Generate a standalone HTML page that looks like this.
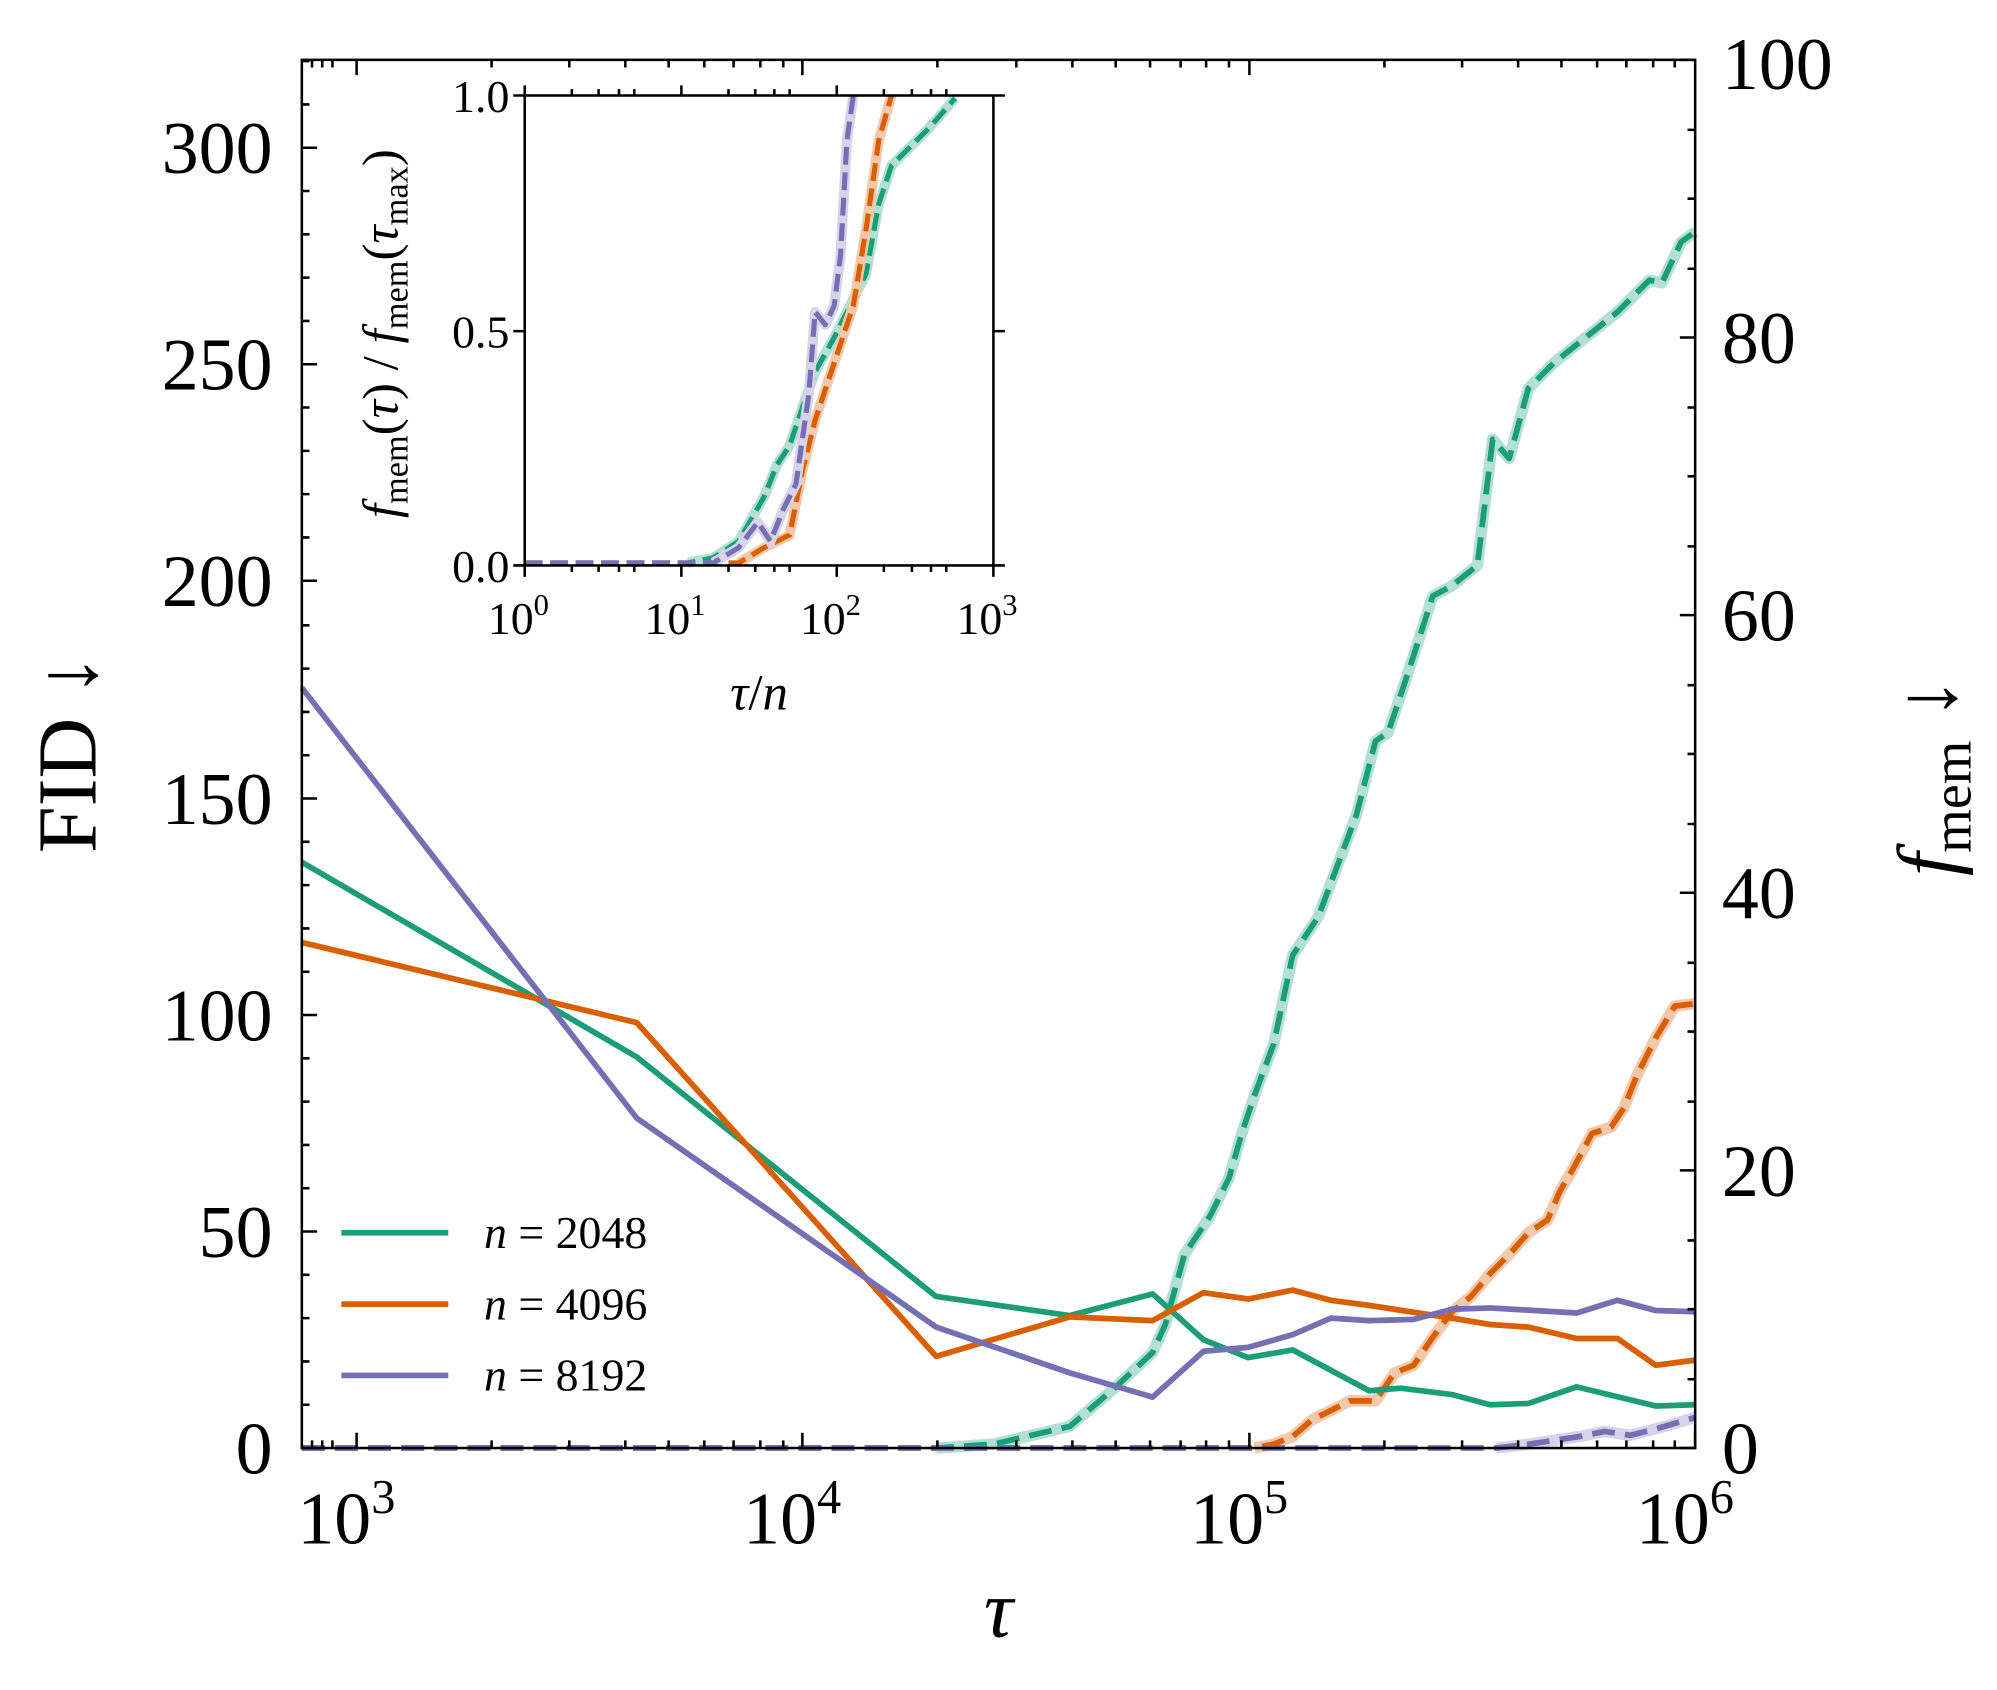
<!DOCTYPE html>
<html><head><meta charset="utf-8"><style>html,body{margin:0;padding:0;background:#fff}svg{display:block}</style></head>
<body>
<svg width="1997" height="1690" viewBox="0 0 1568 1327" preserveAspectRatio="none" xmlns="http://www.w3.org/2000/svg" font-family="Liberation Serif, serif">
<rect width="1568" height="1327" fill="#fff"/>
<g fill="none" stroke-linejoin="round">
<polyline stroke="#b3e0d2" stroke-width="9" points="735,1137 780,1134 840,1120 875,1090 905,1062 915,1040 930,985 950,955 965,925 975,890 985,860 1000,820 1015,750 1035,720 1050,680 1065,640 1080,582 1090,575 1105,530 1125,468 1140,460 1160,444 1172,345 1185,360 1200,305 1220,285 1245,265 1270,245 1295,220 1305,222 1320,190 1331,182"/>
<polyline stroke="#1b9e77" stroke-width="4.5" stroke-dasharray="18,8" points="237,1137 735,1137 780,1134 840,1120 875,1090 905,1062 915,1040 930,985 950,955 965,925 975,890 985,860 1000,820 1015,750 1035,720 1050,680 1065,640 1080,582 1090,575 1105,530 1125,468 1140,460 1160,444 1172,345 1185,360 1200,305 1220,285 1245,265 1270,245 1295,220 1305,222 1320,190 1331,182"/>
<polyline stroke="#f2c9ab" stroke-width="9" points="985,1137 1000,1134 1015,1128 1030,1115 1060,1100 1080,1100 1095,1078 1110,1072 1125,1050 1140,1030 1155,1018 1170,1000 1185,985 1200,968 1215,958 1225,935 1235,918 1250,890 1265,885 1275,870 1285,845 1300,815 1315,790 1331,788"/>
<polyline stroke="#d95f02" stroke-width="4.5" stroke-dasharray="18,8" points="237,1137 985,1137 1000,1134 1015,1128 1030,1115 1060,1100 1080,1100 1095,1078 1110,1072 1125,1050 1140,1030 1155,1018 1170,1000 1185,985 1200,968 1215,958 1225,935 1235,918 1250,890 1265,885 1275,870 1285,845 1300,815 1315,790 1331,788"/>
<polyline stroke="#d6d3ea" stroke-width="9" points="1175,1137 1200,1134 1240,1128 1260,1124 1280,1127 1300,1122 1331,1113"/>
<polyline stroke="#7570b3" stroke-width="4.5" stroke-dasharray="18,8" points="237,1137 1175,1137 1200,1134 1240,1128 1260,1124 1280,1127 1300,1122 1331,1113"/>
<polyline stroke="#1b9e77" stroke-width="4.5" points="237,677 500,830 735,1018 840,1033 905,1016 945,1052 980,1066 1015,1060 1075,1092 1100,1090 1140,1095 1170,1103 1200,1102 1238,1089 1300,1104 1331,1103"/>
<polyline stroke="#d95f02" stroke-width="4.5" points="237,740 500,803 735,1065 840,1034 905,1037 945,1015 980,1020 1015,1013 1045,1021 1075,1025 1140,1035 1170,1040 1200,1042 1238,1051 1270,1051 1300,1072 1331,1068"/>
<polyline stroke="#7570b3" stroke-width="4.5" points="237,540 500,878 735,1042 840,1078 905,1097 945,1061 980,1058 1015,1048 1045,1035 1075,1037 1110,1036 1140,1028 1170,1027 1238,1031 1270,1021 1300,1029 1331,1030"/>
</g>
<rect x="237" y="47" width="1094" height="1090" fill="none" stroke="#000" stroke-width="2"/>
<g stroke="#000" stroke-width="2">
<path d="M237,1137h12M237,967h12M237,797h12M237,627h12M237,456h12M237,286h12M237,116h12"/>
<path d="M237,1103h6M237,1069h6M237,1035h6M237,1001h6M237,933h6M237,899h6M237,865h6M237,831h6M237,763h6M237,729h6M237,695h6M237,661h6M237,593h6M237,559h6M237,525h6M237,491h6M237,422h6M237,388h6M237,354h6M237,320h6M237,252h6M237,218h6M237,184h6M237,150h6M237,82h6M237,48h6"/>
<path d="M1331,1137h-12M1331,919h-12M1331,701h-12M1331,483h-12M1331,265h-12M1331,47h-12"/>
<path d="M1331,1083h-6M1331,1028h-6M1331,974h-6M1331,865h-6M1331,810h-6M1331,756h-6M1331,647h-6M1331,592h-6M1331,538h-6M1331,429h-6M1331,374h-6M1331,320h-6M1331,211h-6M1331,156h-6M1331,102h-6"/>
<path d="M280,1137v-12M630,1137v-12M981,1137v-12M1331,1137v-12M280,47v12M630,47v12M981,47v12"/>
<path d="M245,1137v-6M253,1137v-6M261,1137v-6M386,1137v-6M447,1137v-6M491,1137v-6M525,1137v-6M553,1137v-6M576,1137v-6M597,1137v-6M615,1137v-6M736,1137v-6M798,1137v-6M842,1137v-6M876,1137v-6M903,1137v-6M927,1137v-6M947,1137v-6M965,1137v-6M1087,1137v-6M1148,1137v-6M1192,1137v-6M1226,1137v-6M1254,1137v-6M1277,1137v-6M1298,1137v-6M1315,1137v-6"/>
<path d="M245,47v6M253,47v6M261,47v6M386,47v6M447,47v6M491,47v6M525,47v6M553,47v6M576,47v6M597,47v6M615,47v6M736,47v6M798,47v6M842,47v6M876,47v6M903,47v6M927,47v6M947,47v6M965,47v6M1087,47v6M1148,47v6M1192,47v6M1226,47v6M1254,47v6M1277,47v6M1298,47v6M1315,47v6"/>
</g>
<g font-size="58" fill="#000">
<g text-anchor="end">
<text x="214" y="1157">0</text><text x="214" y="987">50</text><text x="214" y="817">100</text><text x="214" y="647">150</text><text x="214" y="476">200</text><text x="214" y="306">250</text><text x="214" y="136">300</text>
</g>
<text x="1352" y="1157">0</text><text x="1352" y="939">20</text><text x="1352" y="721">40</text><text x="1352" y="503">60</text><text x="1352" y="285">80</text><text x="1352" y="70">100</text>
<g text-anchor="middle">
<text x="272" y="1212">10<tspan font-size="38" dy="-24">3</tspan></text>
<text x="622" y="1212">10<tspan font-size="38" dy="-24">4</tspan></text>
<text x="973" y="1212">10<tspan font-size="38" dy="-24">5</tspan></text>
<text x="1323" y="1212">10<tspan font-size="38" dy="-24">6</tspan></text>
<text x="784" y="1285" font-style="italic" font-size="64">τ</text>
</g>
<text transform="translate(75,592) rotate(-90)" text-anchor="middle" font-size="66">FID ↓</text>
<text transform="translate(1535,610) rotate(-90)" text-anchor="middle" font-size="66"><tspan font-style="italic">f</tspan><tspan font-size="44" dy="12">mem</tspan><tspan dy="-12"> ↓</tspan></text>
</g>
<g stroke-width="4.5">
<line x1="268" y1="968" x2="352" y2="968" stroke="#1b9e77"/>
<line x1="268" y1="1024" x2="352" y2="1024" stroke="#d95f02"/>
<line x1="268" y1="1080" x2="352" y2="1080" stroke="#7570b3"/>
</g>
<g font-size="36"><text x="380" y="980"><tspan font-style="italic">n</tspan> = 2048</text><text x="380" y="1036"><tspan font-style="italic">n</tspan> = 4096</text><text x="380" y="1092"><tspan font-style="italic">n</tspan> = 8192</text></g>
<rect x="412" y="75" width="368" height="369" fill="#fff"/>
<g fill="none" stroke-linejoin="round" stroke-width="4">
<polyline stroke="#b3e0d2" stroke-width="8" points="540,442 560,438 580,425 600,390 610,365 620,350 630,320 640,292 655,265 665,245 680,215 690,160 700,130 730,100 750,77"/>
<polyline stroke="#1b9e77" stroke-dasharray="14,6" points="412,442 540,442 560,438 580,425 600,390 610,365 620,350 630,320 640,292 655,265 665,245 680,215 690,160 700,130 730,100 750,77"/>
<polyline stroke="#f2c9ab" stroke-width="8" points="580,442 600,430 620,420 630,370 640,330 650,300 660,270 670,240 680,180 690,110 700,75"/>
<polyline stroke="#d95f02" stroke-dasharray="14,6" points="412,442 580,442 600,430 620,420 630,370 640,330 650,300 660,270 670,240 680,180 690,110 700,75"/>
<polyline stroke="#d6d3ea" stroke-width="8" points="560,442 580,430 595,410 605,425 615,400 625,380 635,310 640,245 648,255 655,240 660,200 665,110 670,75"/>
<polyline stroke="#7570b3" stroke-dasharray="14,6" points="412,442 560,442 580,430 595,410 605,425 615,400 625,380 635,310 640,245 648,255 655,240 660,200 665,110 670,75"/>
</g>
<rect x="412" y="75" width="368" height="369" fill="none" stroke="#000" stroke-width="2"/>
<g stroke="#000" stroke-width="2">
<path d="M412,444h-9M412,260h-9M412,75h-9M780,444h9M780,260h9M780,75h9M412,444v9M535,444v9M657,444v9M780,444v9M412,75v-8M535,75v-8M657,75v-8"/>
<path d="M449,444v5M470,444v5M486,444v5M498,444v5M572,444v5M593,444v5M608,444v5M620,444v5M694,444v5M716,444v5M731,444v5M743,444v5M449,75v-5M470,75v-5M486,75v-5M498,75v-5M572,75v-5M593,75v-5M608,75v-5M620,75v-5M694,75v-5M716,75v-5M731,75v-5M743,75v-5"/>
</g>
<g font-size="36">
<g text-anchor="end"><text x="400" y="457">0.0</text><text x="400" y="273">0.5</text><text x="400" y="88">1.0</text></g>
<g text-anchor="middle">
<text x="407" y="498">10<tspan font-size="24" dy="-15">0</tspan></text>
<text x="530" y="498">10<tspan font-size="24" dy="-15">1</tspan></text>
<text x="652" y="498">10<tspan font-size="24" dy="-15">2</tspan></text>
<text x="775" y="498">10<tspan font-size="24" dy="-15">3</tspan></text>
<text x="596" y="557" font-size="40"><tspan font-style="italic">τ</tspan>/<tspan font-style="italic">n</tspan></text>
</g>
<text transform="translate(312,262) rotate(-90)" text-anchor="middle" font-size="40"><tspan font-style="italic">f</tspan><tspan font-size="27" dy="8">mem</tspan><tspan dy="-8">(<tspan font-style="italic">τ</tspan>) / </tspan><tspan font-style="italic">f</tspan><tspan font-size="27" dy="8">mem</tspan><tspan dy="-8">(<tspan font-style="italic">τ</tspan></tspan><tspan font-size="27" dy="8">max</tspan><tspan dy="-8">)</tspan></text>
</g>
</svg>
</body></html>
